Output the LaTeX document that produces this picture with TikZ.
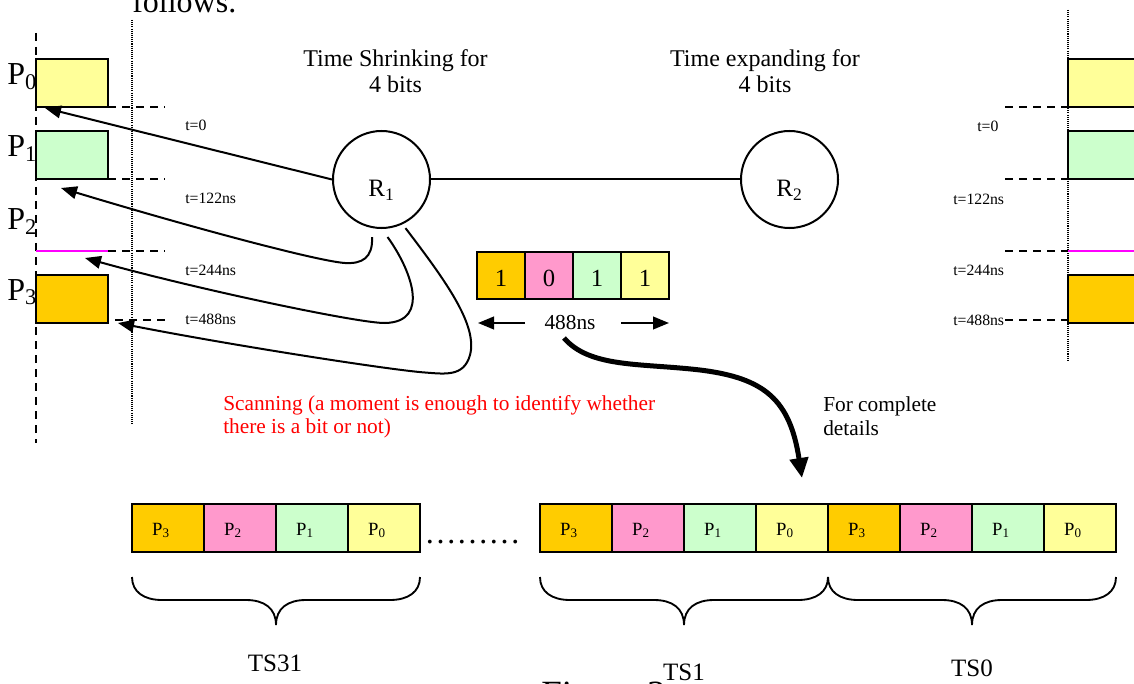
\documentclass[tikz,border=0pt]{standalone}
\usepackage{fontspec}
\setmainfont{Liberation Serif}
\usetikzlibrary{arrows.meta}
\definecolor{cyel}{HTML}{FFFF99}
\definecolor{cgrn}{HTML}{CCFFCC}
\definecolor{corg}{HTML}{FFCC00}
\definecolor{cpnk}{HTML}{FF99CC}
\definecolor{cmag}{HTML}{FF00FF}
\definecolor{cred}{HTML}{FF0000}
\newcommand{\fTitle}{\fontsize{18}{19.5}\selectfont}
\newcommand{\fPl}{\fontsize{24}{26}\selectfont}
\newcommand{\fTl}{\fontsize{11.8}{13}\selectfont}
\newcommand{\fRed}{\fontsize{16}{17}\selectfont}
\newcommand{\fBit}{\fontsize{18.5}{20}\selectfont}
\newcommand{\fNs}{\fontsize{16}{18}\selectfont}
\newcommand{\fRr}{\fontsize{18.75}{20}\selectfont}
\newcommand{\fCell}{\fontsize{14}{16}\selectfont}
\newcommand{\fTS}{\fontsize{18.75}{20}\selectfont}
\newcommand{\fDoc}{\fontsize{24}{26}\selectfont}
\newcommand{\fCap}{\fontsize{27.75}{30}\selectfont}
\newcommand{\fNote}{\fontsize{16}{17.5}\selectfont}
\tikzset{
  pbox/.style={draw, line width=1.5pt, minimum width=54pt, minimum height=36pt, inner sep=0pt, outer sep=0pt, anchor=north west},
  cell/.style={draw, line width=1.5pt, minimum width=54pt, minimum height=36pt, inner sep=0pt, outer sep=0pt, font=\fCell, text height=12pt, text depth=0.75pt},
  bit/.style={draw, line width=1.5pt, minimum width=36pt, minimum height=35.25pt, inner sep=0pt, outer sep=0pt, font=\fBit, text height=16.8pt, text depth=0pt},
  router/.style={circle, draw, line width=1.5pt, minimum size=72.75pt, inner sep=0pt, font=\fRr, text height=26pt, text depth=0.2pt},
  tlab/.style={font=\fTl, inner sep=0pt, anchor=base west},
  plab/.style={font=\fPl, inner sep=0pt, anchor=base west},
  hdash/.style={line width=1.4pt, dash pattern=on 6pt off 4.5pt},
  vdash/.style={line width=1.4pt, dash pattern=on 6pt off 4.5pt},
  vdot/.style={line width=0.8pt, dash pattern=on 0.8pt off 0.8pt},
  arr/.style={line width=1.5pt, -{Triangle[length=12pt,width=9.5pt]}},
  bigarr/.style={line width=3.75pt, -{Triangle[length=15pt,width=13.5pt]}},
  brace/.style={line width=1.4pt},
  txt/.style={inner sep=0pt, anchor=base}
}
\begin{document}
\begin{tikzpicture}[x=0.75pt,y=-0.75pt]
\useasboundingbox (0,0) rectangle (1134,684);
\clip (0,0) rectangle (1134,684);

% surrounding document text (clipped, as in the reference)
\node[font=\fDoc, inner sep=0pt, anchor=base west] (follows) at (132,13) {follows.};
\node[font=\fCap, inner sep=0pt, anchor=base west] (figcap) at (541,706) {Figure 3};

% ---------- left side ----------
\draw[vdash] (36,33) -- (36,443);
\draw[vdot] (132,20) -- (132,425);
\node[pbox, fill=cyel] (lp0) at (36,59) {};
\node[pbox, fill=cgrn] (lp1) at (36,131) {};
\node[pbox, fill=corg] (lp3) at (36,275) {};
\draw[line width=1.5pt, cmag] (36,251) -- (108,251);
\draw[hdash] (108,107) -- (165,107);
\draw[hdash] (108,179) -- (165,179);
\draw[hdash] (108,251) -- (165,251);
\draw[hdash] (115,320) -- (165,320);
\node[plab] (lP0) at (7,85) {P\textsubscript{0}};
\node[plab] (lP1) at (7,157) {P\textsubscript{1}};
\node[plab] (lP2) at (7,230) {P\textsubscript{2}};
\node[plab] (lP3) at (7,300) {P\textsubscript{3}};
\node[tlab] (lt0) at (185,131) {t=0};
\node[tlab] (lt1) at (185,204) {t=122ns};
\node[tlab] (lt2) at (185,275.5) {t=244ns};
\node[tlab] (lt3) at (185,324) {t=488ns};

% ---------- right side ----------
\draw[vdot] (1068,10) -- (1068,360);
\node[pbox, fill=cyel] (rp0) at (1068,59) {};
\node[pbox, fill=cgrn] (rp1) at (1068,131) {};
\node[pbox, fill=corg] (rp3) at (1068,275) {};
\draw[line width=1.5pt, cmag] (1068,251) -- (1140,251);
\draw[hdash] (1005,107) -- (1068,107);
\draw[hdash] (1005,179) -- (1068,179);
\draw[hdash] (1005,251) -- (1068,251);
\draw[hdash] (1005,320) -- (1068,320);
\node[tlab] (rt0) at (977,131.7) {t=0};
\node[tlab] (rt1) at (953,205) {t=122ns};
\node[tlab] (rt2) at (953,276) {t=244ns};
\node[tlab] (rt3) at (953,325) {t=488ns};

% ---------- titles and routers ----------
\node[font=\fTitle, align=center, txt] (tshr) at (395.5,93) {Time Shrinking for\\4 bits};
\node[font=\fTitle, align=center, txt] (texp) at (765,93) {Time expanding for\\4 bits};
\node[router] (R1) at (381.5,179.5) {R\textsubscript{1}};
\node[router] (R2) at (789.5,179.5) {R\textsubscript{2}};
\draw[line width=1.5pt] (R1.east) -- (R2.west);

\coordinate (a0) at (45,108);
\coordinate (a1) at (61,188);
\coordinate (a2) at (85,258);
\coordinate (a3) at (118,323);
\draw[arr] (R1.west) -- (a0);
\draw[arr] ([yshift=-6.7pt]R1.259) .. controls (373,258) and (362,264) .. (345,263)
   .. controls (320,261.5) and (200,230) .. (a1);
\draw[arr] ([yshift=-6.3pt]R1.277) .. controls (410,268) and (432,322) .. (385,323)
   .. controls (360,323.5) and (200,290) .. (a2);
\draw[arr] ([yshift=-4pt]R1.299) .. controls (445,280) and (478,325) .. (470,355)
   .. controls (464,377) and (445,374) .. (425,372.5)
   .. controls (390,370) and (230,345) .. (a3);

% ---------- bit box ----------
\node[bit, fill=corg] (b1) at (501,275.5) {1};
\node[bit, fill=cpnk] (b2) at (549,275.5) {0};
\node[bit, fill=cgrn] (b3) at (597,275.5) {1};
\node[bit, fill=cyel] (b4) at (645,275.5) {1};
\node[font=\fNs, txt] (ns) at (570,329.3) {488ns};
\coordinate (nsLa) at (525,323);
\coordinate (nsLb) at (478,323);
\coordinate (nsRa) at (621,323);
\coordinate (nsRb) at (669,323);
\draw[arr] (nsLa) -- (nsLb);
\draw[arr] (nsRa) -- (nsRb);
\coordinate (bigS) at (564,338);
\coordinate (bigE) at (802,478);
\draw[bigarr] (bigS) .. controls (590,368) and (640,363) .. (700,370) .. controls (765,378) and (790,400) .. (bigE);

% ---------- notes ----------
\node[font=\fRed, text=cred, align=left, inner sep=0pt, anchor=base west] (scan) at (223,433.3) {Scanning (a moment is enough to identify whether\\there is a bit or not)};
\node[font=\fNote, align=left, inner sep=0pt, anchor=base west] (fc) at (823,435) {For complete\\details};

% ---------- bottom frames ----------
\node[cell, fill=corg] (c31a) at (168,527.5) {P\textsubscript{3}\kern10.5pt};
\node[cell, fill=cpnk] (c31b) at (240,527.5) {P\textsubscript{2}\kern10.5pt};
\node[cell, fill=cgrn] (c31c) at (312,527.5) {P\textsubscript{1}\kern10.5pt};
\node[cell, fill=cyel] (c31d) at (384,527.5) {P\textsubscript{0}\kern10.5pt};
\node[font=\fDoc, txt] (dots) at (472.5,543) {………};
\node[cell, fill=corg] (c1a) at (576,527.5) {P\textsubscript{3}\kern10.5pt};
\node[cell, fill=cpnk] (c1b) at (648,527.5) {P\textsubscript{2}\kern10.5pt};
\node[cell, fill=cgrn] (c1c) at (720,527.5) {P\textsubscript{1}\kern10.5pt};
\node[cell, fill=cyel] (c1d) at (792,527.5) {P\textsubscript{0}\kern10.5pt};
\node[cell, fill=corg] (c0a) at (864,527.5) {P\textsubscript{3}\kern10.5pt};
\node[cell, fill=cpnk] (c0b) at (936,527.5) {P\textsubscript{2}\kern10.5pt};
\node[cell, fill=cgrn] (c0c) at (1008,527.5) {P\textsubscript{1}\kern10.5pt};
\node[cell, fill=cyel] (c0d) at (1080,527.5) {P\textsubscript{0}\kern10.5pt};

\foreach \a/\m/\b in {132/276/420, 540/684/828, 828/972/1116} {
  \draw[brace] (\a,577) .. controls (\a,592) and (\a+12,600) .. (\a+30,600) -- (\m-30,600)
     .. controls (\m-12,600) and (\m,608) .. (\m,625)
     .. controls (\m,608) and (\m+12,600) .. (\m+30,600) -- (\b-30,600)
     .. controls (\b-12,600) and (\b,592) .. (\b,577);
}
\node[font=\fTS, txt] (ts31) at (275,671) {TS31};
\node[font=\fTS, txt] (ts1) at (684,680) {TS1};
\node[font=\fTS, txt] (ts0) at (972,676) {TS0};
\end{tikzpicture}
\end{document}
